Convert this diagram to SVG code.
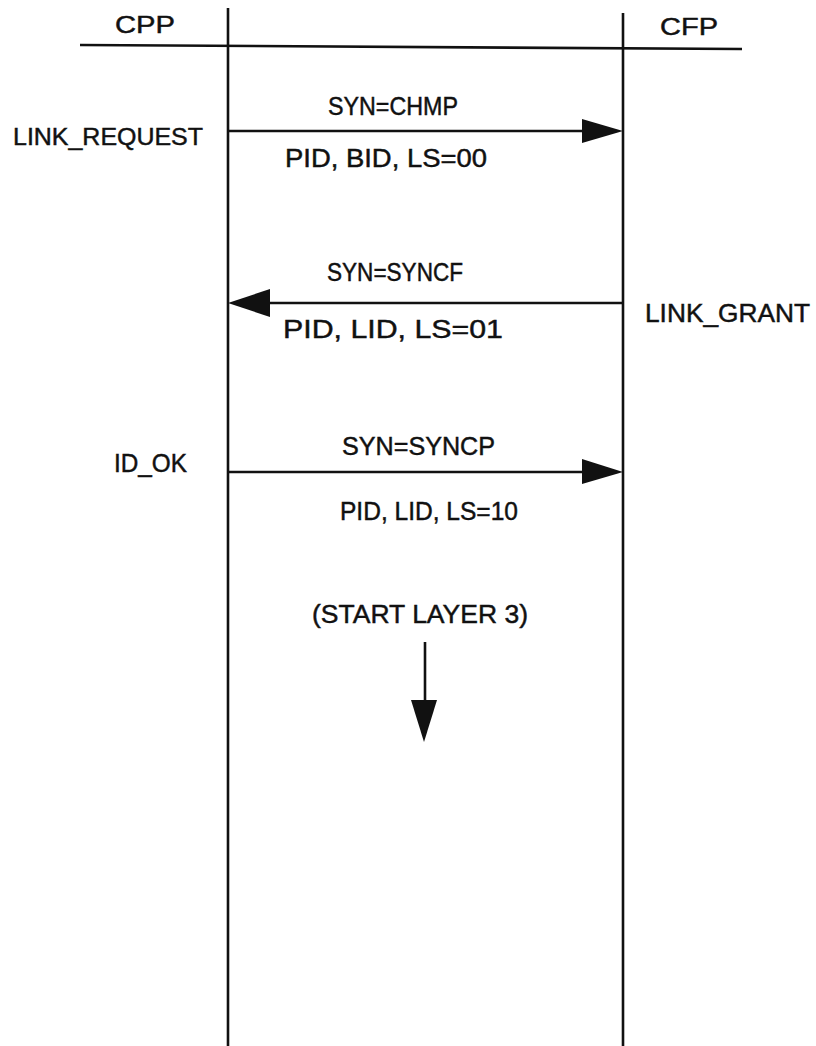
<svg xmlns="http://www.w3.org/2000/svg" width="816" height="1046" viewBox="0 0 816 1046">
<defs>
<style>
text{font-family:"Liberation Sans",Arial,sans-serif;font-size:24px;fill:#111;stroke:#111;stroke-width:0.45}
.ln{stroke:#111;stroke-width:2.6;fill:none}
.ar{stroke:#111;stroke-width:2.6;fill:none}
.hd{fill:#111;stroke:none}
</style>
</defs>
<rect width="816" height="1046" fill="#fff"/>
<g id="header">
<line class="ln" x1="80" y1="45" x2="742" y2="49"/>
</g>
<g id="cpp">
<line class="ln" x1="228" y1="8" x2="228" y2="1046"/>
<text x="115" y="33" textLength="60" lengthAdjust="spacingAndGlyphs">CPP</text>
</g>
<g id="cfp">
<line class="ln" x1="623" y1="13" x2="623" y2="1046"/>
<text x="660" y="35" textLength="58" lengthAdjust="spacingAndGlyphs">CFP</text>
</g>
<g id="labels">
<text x="13" y="145" textLength="190" lengthAdjust="spacingAndGlyphs">LINK_REQUEST</text>
<text x="645" y="322" style="font-size:25px" textLength="165" lengthAdjust="spacingAndGlyphs">LINK_GRANT</text>
<text x="114" y="472" style="font-size:25px" textLength="73" lengthAdjust="spacingAndGlyphs">ID_OK</text>
<text x="312" y="623" style="font-size:26px" textLength="216" lengthAdjust="spacingAndGlyphs">(START LAYER 3)</text>
</g>
<g id="connectors">
<line class="ar" x1="228" y1="131" x2="584" y2="131"/>
<polygon class="hd" points="582,119 623,131 582,143"/>
<line class="ar" x1="268" y1="303" x2="623" y2="303"/>
<polygon class="hd" points="270,289 228,303 270,317"/>
<line class="ar" x1="228" y1="472" x2="584" y2="472"/>
<polygon class="hd" points="582,459 623,472 582,484"/>
<line class="ar" x1="425" y1="642" x2="425" y2="702"/>
<polygon class="hd" points="411,700 437,700 424,742"/>
</g>
<g id="msg-labels">
<text x="328" y="115" style="font-size:25px" textLength="130" lengthAdjust="spacingAndGlyphs">SYN=CHMP</text>
<text x="285" y="167" style="font-size:25px" textLength="202" lengthAdjust="spacingAndGlyphs">PID, BID, LS=00</text>
<text x="327" y="281" style="font-size:25px" textLength="136" lengthAdjust="spacingAndGlyphs">SYN=SYNCF</text>
<text x="283" y="338" style="font-size:26px" textLength="220" lengthAdjust="spacingAndGlyphs">PID, LID, LS=01</text>
<text x="342" y="455" style="font-size:25px" textLength="153" lengthAdjust="spacingAndGlyphs">SYN=SYNCP</text>
<text x="340" y="520" style="font-size:25px" textLength="178" lengthAdjust="spacingAndGlyphs">PID, LID, LS=10</text>
</g>
</svg>
